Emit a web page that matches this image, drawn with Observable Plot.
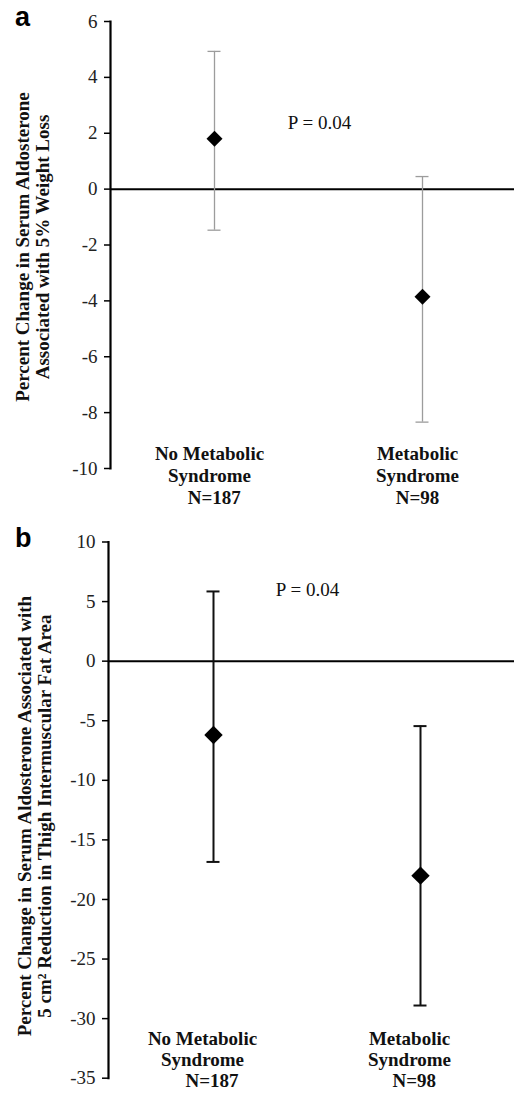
<!DOCTYPE html>
<html>
<head>
<meta charset="utf-8">
<script src="https://cdn.jsdelivr.net/npm/d3@7"></script>
<script src="https://cdn.jsdelivr.net/npm/@observablehq/plot@0.6"></script>
<style>
  html, body { margin: 0; padding: 0; background: #fff; }
  .panel { position: relative; width: 514px; }
  .tag { position: absolute; left: 15px; font: bold 27px "Liberation Sans", Arial, sans-serif; line-height: 27px; color: #000; }
  svg { overflow: visible; }
</style>
</head>
<body>
<div class="panel" id="pa" style="height:515px"><div class="tag" style="top:4px">a</div></div>
<div class="panel" id="pb" style="height:578px"><div class="tag" style="top:10px">b</div></div>
<script>
// ---- data ----
const categories = ["No Metabolic Syndrome", "Metabolic Syndrome"];

// Panel a: % change per 5% weight loss
const aMean = [1.8, -3.85];
const aLow = [-1.47, -8.34];
const aHigh = [4.93, 0.45];
const aTicks = [6, 4, 2, 0, -2, -4, -6, -8, -10];
const aLabels = ["No Metabolic\nSyndrome\n\u00a0\u00a0N=187", "Metabolic\nSyndrome\nN=98"];
const aTitle = "Percent Change in Serum Aldosterone\nAssociated with 5% Weight Loss";
const aPText = "P = 0.04";
const aPValue = 2.37;

// Panel b: % change per 5 cm² reduction in thigh intermuscular fat
const bMean = [-6.2, -18.0];
const bLow = [-16.85, -28.9];
const bHigh = [5.85, -5.45];
const bTicks = [10, 5, 0, -5, -10, -15, -20, -25, -30, -35];
const bLabels = ["No Metabolic\nSyndrome\n\u00a0\u00a0\u00a0\u00a0N=187", "Metabolic\nSyndrome\n\u00a0\u00a0N=98"];
const bTitle = "Percent Change in Serum Aldosterone Associated with\n5 cm\u00b2 Reduction in Thigh Intermuscular Fat Area";
const bPText = "P = 0.04";
const bPValue = 6.0;

const serif = "'Liberation Serif', 'Times New Roman', Times, serif";

function panel(o) {
  const rows = categories.map((c, i) => ({cat: c, mean: o.mean[i], low: o.low[i], high: o.high[i]}));
  return Plot.plot({
    width: 514,
    height: o.height,
    marginLeft: o.left,
    marginRight: 0,
    marginTop: o.top,
    marginBottom: o.bottom,
    style: {fontFamily: serif, fontSize: "19px", color: "#000", background: "transparent", overflow: "visible"},
    x: {type: "point", domain: categories, range: o.xRange, padding: 0},
    y: {domain: o.yDomain},
    marks: [
      Plot.ruleY([0], {stroke: "#000", strokeWidth: 2}),
      Plot.frame({anchor: "left", stroke: "#000", strokeWidth: 2.2}),
      Plot.axisY({ticks: o.ticks, tickSize: 6, tickPadding: 7, tickFormat: d => String(d), label: null,
        fontFamily: serif, fontSize: 19, fill: "#222", stroke: "#000", strokeWidth: 1.5}),
      Plot.axisX({tickSize: 0, tickPadding: o.labelPad, label: null,
        tickFormat: d => o.labels[categories.indexOf(d)],
        fontFamily: serif, fontWeight: "bold", fontSize: 19, lineHeight: o.labelLH, lineAnchor: "middle", dx: o.labelDx, fill: "#111"}),
      Plot.ruleX(rows, {x: "cat", y1: "low", y2: "high", stroke: o.errColor, strokeWidth: o.errWidth}),
      Plot.ruleY(rows, {x1: "cat", x2: "cat", y: "low", insetLeft: -6.5, insetRight: -6.5, stroke: o.errColor, strokeWidth: o.errWidth}),
      Plot.ruleY(rows, {x1: "cat", x2: "cat", y: "high", insetLeft: -6.5, insetRight: -6.5, stroke: o.errColor, strokeWidth: o.errWidth}),
      Plot.dot(rows, {x: "cat", y: "mean", symbol: "diamond2", fill: "#000", stroke: "none", r: o.r}),
      Plot.text([{t: o.pText, v: o.pValue}], {y: "v", text: "t", fontFamily: serif, fontSize: 19, dx: o.pDx, fill: "#111"}),
      Plot.text([o.title], {text: d => d, frameAnchor: "left", rotate: -90, dx: o.titleDx, dy: o.titleDy,
        fontFamily: serif, fontWeight: "bold", fontSize: 19, lineHeight: 1.05, lineAnchor: "middle", textAnchor: "middle", fill: "#111"})
    ]
  });
}

document.getElementById("pa").appendChild(panel({
  height: 515, left: 110, top: 21, bottom: 47,
  xRange: [214, 422], yDomain: [-10, 6], ticks: aTicks, labels: aLabels,
  labelPad: 6, labelDx: -5, labelLH: 1.16,
  mean: aMean, low: aLow, high: aHigh,
  errColor: "#9c9c9c", errWidth: 1.3, r: 7.2,
  pText: aPText, pValue: aPValue, pDx: 7,
  title: aTitle, titleDx: -77.5, titleDy: 2
}));

document.getElementById("pb").appendChild(panel({
  height: 578, left: 108, top: 26.5, bottom: 15.3,
  xRange: [213, 420], yDomain: [-35, 10], ticks: bTicks, labels: bLabels,
  labelPad: -19, labelDx: -11, labelLH: 1.12,
  mean: bMean, low: bLow, high: bHigh,
  errColor: "#111", errWidth: 2, r: 8.3,
  pText: bPText, pValue: bPValue, pDx: -4,
  title: bTitle, titleDx: -74, titleDy: 6
}));
</script>
</body>
</html>
